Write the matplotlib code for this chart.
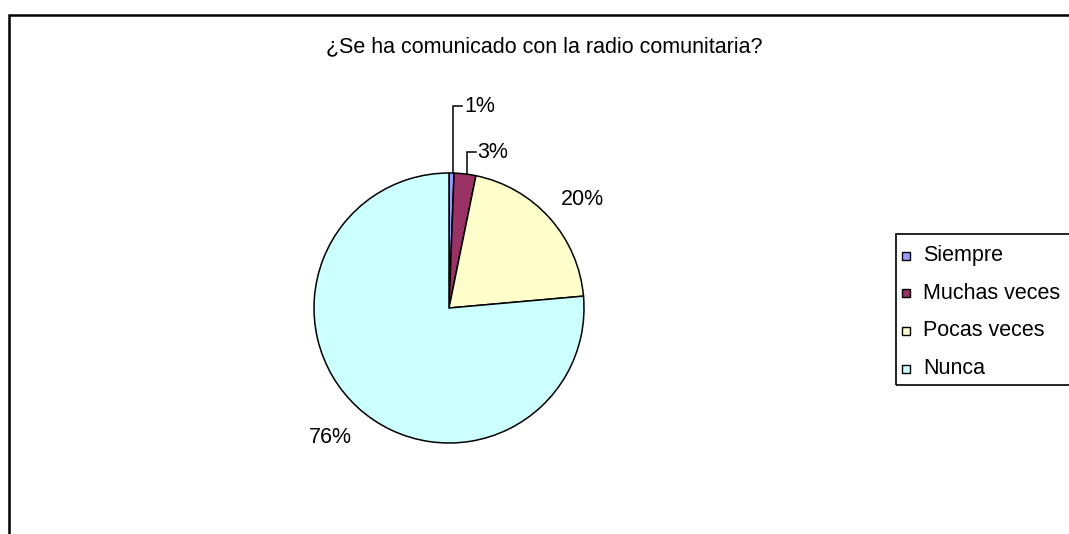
"""
Pie chart: ¿Se ha comunicado con la radio comunitaria?
"""

import matplotlib
matplotlib.use("Agg")
import matplotlib.pyplot as plt
from matplotlib.patches import Rectangle
import numpy as np

plt.rcParams["font.family"] = ["Liberation Sans", "DejaVu Sans"]

# survey answers (percent of respondents)
categories = ["Siempre", "Muchas veces", "Pocas veces", "Nunca"]
values = [0.6, 2.6, 20.4, 76.4]
colors = ["#9999FF", "#993366", "#FFFFCC", "#CCFFFF"]
title = "¿Se ha comunicado con la radio comunitaria?"

W, H = 1069, 534
FS = 15.5


def px(y):
    # convert a top-down pixel row into the axes' bottom-up y
    return H - y


fig = plt.figure(figsize=(W / 100, H / 100), dpi=100)
ax = fig.add_axes([0, 0, 1, 1])

cx, cy, r = 449, px(308), 135
wedges, _ = ax.pie(values, colors=colors, startangle=90, counterclock=False,
                   center=(cx, cy), radius=r,
                   wedgeprops=dict(edgecolor="black", linewidth=1.1))

ax.set_xlim(0, W)
ax.set_ylim(0, H)
ax.set_aspect("equal")
ax.axis("off")

labels = [f"{v:.0f}%" for v in values]

# the two thin slices get leader lines up to labels above the pie
leader_y = [px(106), px(152)]
for i, ly in enumerate(leader_y):
    w = wedges[i]
    mid = np.deg2rad((w.theta1 + w.theta2) / 2)
    x0, y0 = cx + r * np.cos(mid), cy + r * np.sin(mid)
    x0 += 1.5
    ax.plot([x0, x0, x0 + 9], [y0, ly, ly], color="black", lw=1.1,
            solid_joinstyle="miter")
    ax.text(x0 + 11, ly, labels[i], fontsize=FS, ha="left", va="center")

# remaining labels sit outside their slice: (distance / r, angle shift in deg)
outside = {2: (1.27, -2.7), 3: (1.305, 0.0)}
for i, (k, shift) in outside.items():
    w = wedges[i]
    mid = np.deg2rad((w.theta1 + w.theta2) / 2 + shift)
    d = r * k
    ax.text(cx + d * np.cos(mid), cy + d * np.sin(mid), labels[i],
            fontsize=FS, ha="center", va="center")

ax.text(544, px(47), title, fontsize=FS, ha="center", va="center")

# chart area border (runs off the right and bottom edges)
ax.add_patch(Rectangle((8.5, px(600)), 1100, 600 - 14.5, fill=False,
                       edgecolor="black", lw=1.8, clip_on=False))

# legend box, also running past the right edge
ax.add_patch(Rectangle((895.5, px(385)), 200, 385 - 234, fill=False,
                       edgecolor="black", lw=1.2, clip_on=False))
for i, (name, c) in enumerate(zip(categories, colors)):
    y = 255.5 + i * 37.7
    ax.add_patch(Rectangle((902, px(y + 4)), 8, 8, facecolor=c,
                           edgecolor="black", lw=1.0))
    ax.text(923, px(y), name, fontsize=FS, ha="left", va="center")

plt.savefig("out.png", dpi=100)
